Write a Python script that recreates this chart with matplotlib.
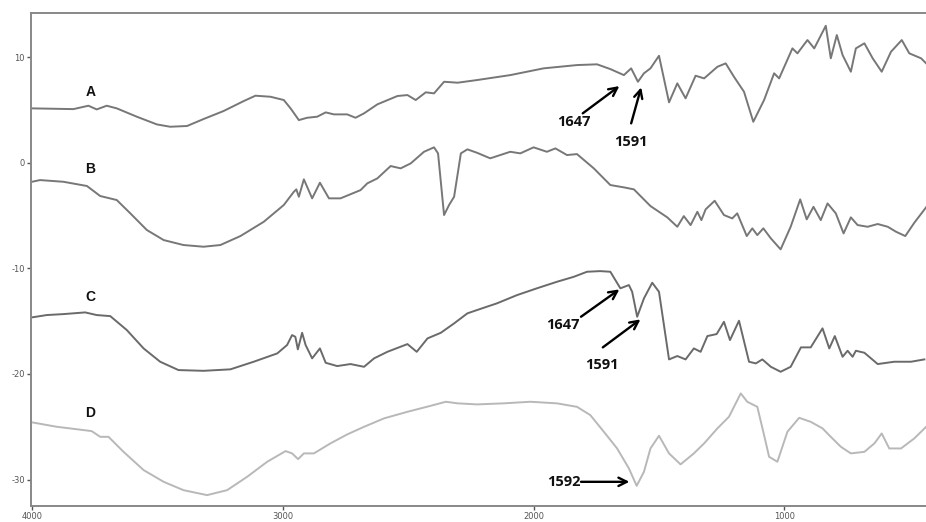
import matplotlib
matplotlib.use("Agg")
import matplotlib.pyplot as plt

plt.rcParams["axes.unicode_minus"] = False

# ---- data (wavenumber, cm-1) ----
A_wn = [4000,3835,3775,3742,3702,3662,3582,3502,3449,3382,3316,3236,3156,3109,3049,2996,2969,2936,2903,2863,
        2829,2796,2743,2710,2676,2623,2543,2503,2470,2430,2397,2357,2303,2226,2093,1960,1827,1747,1694,1640,
        1611,1584,1560,1534,1500,1460,1427,1394,1354,1320,1267,1234,1201,1161,1124,1081,1041,1021,968,948,
        908,881,835,815,791,768,735,715,681,648,612,575,532,502,455,428]
A_val = [5.15,5.08,5.4,5.05,5.4,5.15,4.36,3.63,3.41,3.48,4.14,4.9,5.84,6.35,6.25,5.94,5.15,4.04,4.26,4.36,
         4.77,4.58,4.58,4.26,4.68,5.53,6.32,6.41,5.94,6.67,6.57,7.67,7.58,7.83,8.3,8.94,9.25,9.32,8.87,8.3,
         8.94,7.67,8.47,8.94,10.13,5.72,7.52,6.1,8.24,7.99,9.09,9.41,8.14,6.72,3.88,5.94,8.47,7.99,10.83,10.36,
         11.62,10.83,12.97,9.89,12.09,10.2,8.62,10.83,11.31,9.89,8.62,10.51,11.62,10.36,9.89,9.25]

B_wn = [4000,3968,3875,3781,3728,3662,3608,3542,3475,3396,3316,3249,3169,3076,2996,2956,2946,2936,2916,2883,
        2852,2816,2770,2690,2663,2623,2570,2530,2490,2437,2397,2381,2357,2337,2317,2290,2264,2226,2173,2093,
        2053,2000,1947,1913,1867,1827,1760,1694,1640,1600,1534,1467,1427,1401,1374,1347,1331,1314,1278,1241,
        1208,1188,1150,1128,1108,1084,1054,1015,975,937,911,884,855,828,795,764,735,708,668,628,
        588,555,518,482,428]
B_val = [-1.8,-1.64,-1.8,-2.2,-3.15,-3.53,-4.79,-6.37,-7.32,-7.79,-7.95,-7.79,-6.94,-5.59,-4.0,-2.75,-2.52,-3.22,-1.57,-3.37,
         -1.89,-3.37,-3.37,-2.59,-1.95,-1.48,-0.31,-0.53,-0.06,1.04,1.46,0.89,-4.95,-4.0,-3.22,0.89,1.27,0.95,0.42,1.04,
         0.89,1.46,1.04,1.36,0.73,0.82,-0.53,-2.11,-2.33,-2.52,-4.1,-5.17,-6.06,-5.05,-5.9,-4.64,-5.43,-4.41,-3.6,-4.95,
         -5.27,-4.79,-6.94,-6.21,-6.85,-6.21,-7.16,-8.2,-6.06,-3.47,-5.36,-4.17,-5.43,-3.85,-4.79,-6.69,-5.17,-5.9,-6.06,-5.8,
         -6.06,-6.53,-6.94,-5.68,-4.0]

C_wn = [4000,3941,3875,3788,3742,3688,3622,3555,3489,3416,3316,3209,3116,3022,2983,2963,2950,2940,2923,2909,
        2883,2852,2829,2783,2730,2676,2636,2583,2503,2466,2423,2370,2317,2264,2226,2146,2066,1987,1907,1840,
        1787,1734,1694,1654,1620,1607,1587,1560,1527,1500,1460,1427,1394,1361,1334,1307,1270,1241,1217,1181,
        1141,1114,1088,1054,1015,975,934,895,848,821,799,768,748,728,715,681,628,562,495,442]
C_val = [-14.64,-14.42,-14.33,-14.17,-14.42,-14.52,-15.84,-17.58,-18.84,-19.63,-19.7,-19.56,-18.84,-18.05,-17.26,-16.32,-16.48,-17.67,-16.1,-17.26,
         -18.52,-17.58,-18.94,-19.25,-19.06,-19.32,-18.52,-17.9,-17.17,-17.9,-16.63,-16.1,-15.21,-14.26,-13.95,-13.31,-12.53,-11.89,-11.27,-10.8,
         -10.32,-10.26,-10.32,-11.89,-11.58,-12.22,-14.58,-12.84,-11.36,-12.22,-18.62,-18.3,-18.62,-17.58,-17.9,-16.41,-16.22,-15.06,-16.79,-14.96,
         -18.84,-19.0,-18.62,-19.32,-19.79,-19.32,-17.48,-17.48,-15.68,-17.58,-16.41,-18.37,-17.8,-18.37,-17.8,-17.99,-19.06,-18.84,-18.84,-18.62]

D_wn = [4000,3901,3795,3762,3728,3695,3635,3555,3475,3396,3302,3222,3142,3062,2989,2963,2939,2916,2876,2810,
        2743,2676,2596,2503,2410,2350,2303,2226,2120,2013,1907,1827,1774,1720,1667,1620,1589,1560,1534,1500,
        1460,1414,1361,1320,1267,1221,1174,1148,1108,1081,1061,1028,988,941,895,848,815,775,735,681,
        641,612,582,535,482,428]
D_val = [-24.58,-25.0,-25.31,-25.41,-25.95,-25.95,-27.37,-29.1,-30.21,-31.0,-31.47,-31.0,-29.73,-28.31,-27.3,-27.52,-28.06,-27.52,-27.52,-26.57,
         -25.72,-25.0,-24.2,-23.58,-23.01,-22.63,-22.78,-22.88,-22.78,-22.63,-22.78,-23.11,-23.89,-25.47,-27.05,-28.94,-30.59,-29.26,-27.05,-25.85,
         -27.52,-28.56,-27.52,-26.57,-25.15,-24.05,-21.84,-22.63,-23.11,-25.79,-27.84,-28.31,-25.47,-24.15,-24.53,-25.15,-25.95,-26.89,-27.52,-27.37,
         -26.57,-25.63,-27.05,-27.05,-26.1,-24.84]

series_labels = ["A", "B", "C", "D"]
x_ticks = [4000, 3000, 2000, 1000]
y_ticks = [10, 0, -10, -20, -30]

# ---- figure ----
fig = plt.figure(figsize=(9.26, 5.22), dpi=100)
ax = fig.add_axes([31/926, 1 - 506/522, 1 - 31/926 + 0.002, (506 - 13)/522])

ax.plot(A_wn, A_val, color="#777777", lw=1.4)
ax.plot(B_wn, B_val, color="#777777", lw=1.4)
ax.plot(C_wn, C_val, color="#6a6a6a", lw=1.4)
ax.plot(D_wn, D_val, color="#b8b8b8", lw=1.4)

ax.set_xlim(4004, 428)
ax.set_ylim(-32.5, 14.18)
ax.set_xticks(x_ticks)
ax.set_yticks(y_ticks)
ax.tick_params(labelsize=6, colors="#555555", length=3, width=1, pad=1.5)
for s in ["left", "bottom", "top"]:
    ax.spines[s].set_color("#888888")
    ax.spines[s].set_linewidth(1.4)
ax.spines["right"].set_visible(False)

# series labels
label_pos = {"A": (3768, 6.7), "B": (3768, -0.6), "C": (3768, -12.75), "D": (3768, -23.7)}
for lab in series_labels:
    x, y = label_pos[lab]
    ax.text(x, y, lab, fontsize=10, fontweight="bold", ha="center", va="center",
            family=["Liberation Sans", "DejaVu Sans"], color="#111111")

ann_font = dict(fontsize=10.5, fontweight="bold", ha="center", va="center",
                family=["Open Sans", "DejaVu Sans"], color="#111111")
arrow = dict(arrowstyle="->", color="black", lw=1.7, mutation_scale=15, shrinkA=0, shrinkB=0)

# (text, text_xy, tail_xy, head_xy)
annotations = [
    ("1647", (1840, 3.88), (1804, 4.68), (1658, 7.26)),
    ("1591", (1611, 1.99), (1611, 3.73), (1571, 7.14)),
    ("1647", (1884, -15.37), (1811, -14.58), (1658, -11.99)),
    ("1591", (1728, -19.16), (1724, -17.48), (1574, -14.83)),
    ("1592", (1880, -30.21), (1811, -30.21), (1618, -30.21)),
]
for txt, tpos, tail, head in annotations:
    ax.text(tpos[0], tpos[1], txt, **ann_font)
    ax.annotate("", xy=head, xytext=tail, arrowprops=arrow)

fig.savefig("out.png", dpi=100)
